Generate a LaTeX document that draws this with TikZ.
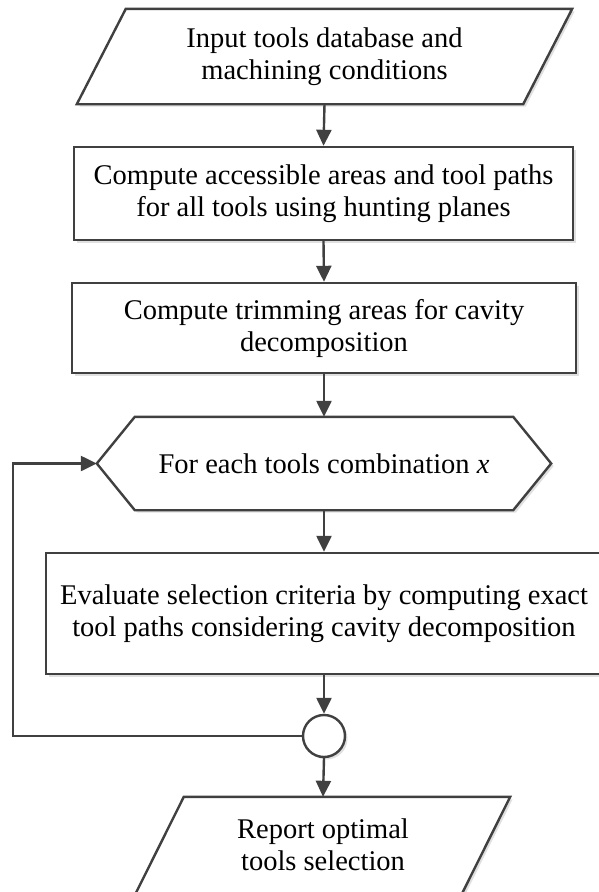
\documentclass[tikz,border=0pt]{standalone}
\usepackage{fontspec}
\setmainfont{Liberation Serif}
\usetikzlibrary{arrows.meta,shadows,backgrounds}
\definecolor{lc}{HTML}{404040}
\begin{document}
\begin{tikzpicture}[x=1pt,y=-1pt,
  txt/.style={font=\fontsize{28.5}{32}\selectfont, align=center, inner sep=0pt, text=black},
  outline/.style={draw=lc, line width=2.4pt, fill=white, line join=miter,
     drop shadow={shadow xshift=2.5pt,shadow yshift=-2.5pt,fill=black!12,opacity=1}},
  box/.style={txt, outline, rectangle},
  slot/.style={txt, rectangle, draw=none},
  conn/.style={draw=lc, line width=2.4pt, -{Triangle[length=16pt,width=15pt]}},
]
\useasboundingbox (0,0) rectangle (599,892);

\node[slot, minimum width=495pt, minimum height=95pt] (in) at (324.5,56.5)
  {Input tools database and\\machining conditions};
\node[box, minimum width=499pt, minimum height=93pt] (r1) at (323.5,193.5)
  {Compute accessible areas and tool paths\\for all tools using hunting planes};
\node[box, minimum width=504pt, minimum height=90pt] (r2) at (324,328)
  {Compute trimming areas for cavity\\decomposition};
\node[slot, minimum width=454pt, minimum height=93pt] (hx) at (324,463.5)
  {For each tools combination \textit{x}};
\node[box, minimum width=556pt, minimum height=121pt] (r3) at (324,613.5)
  {Evaluate selection criteria by computing exact\\tool paths considering cavity decomposition};
\node[outline, circle, minimum size=42pt, inner sep=0pt] (jn) at (324,736) {};
\node[slot, minimum width=374pt, minimum height=96pt] (out) at (323,845)
  {Report optimal\\tools selection};

\begin{pgfonlayer}{background}
\draw[outline] ([xshift=49pt]in.north west) -- (in.north east)
  -- ([xshift=-49pt]in.south east) -- (in.south west) -- cycle;
\draw[outline] ([xshift=38pt]hx.north west) -- ([xshift=-38pt]hx.north east)
  -- (hx.east) -- ([xshift=-38pt]hx.south east) -- ([xshift=38pt]hx.south west)
  -- (hx.west) -- cycle;
\draw[outline] ([xshift=48pt]out.north west) -- (out.north east)
  -- ([xshift=-48pt]out.south east) -- (out.south west) -- cycle;
\end{pgfonlayer}

\draw[conn] (in.south) -- (r1.north);
\draw[conn] (r1.south) -- (r2.north);
\draw[conn] (r2.south) -- (hx.north);
\draw[conn] (hx.south) -- (r3.north);
\draw[conn] (r3.south) -- (jn.north);
\draw[conn] (jn.south) -- (out.north);
\coordinate (lp) at (13,600);
\draw[conn] (jn.west) -| (lp) |- (hx.west);
\end{tikzpicture}
\end{document}
